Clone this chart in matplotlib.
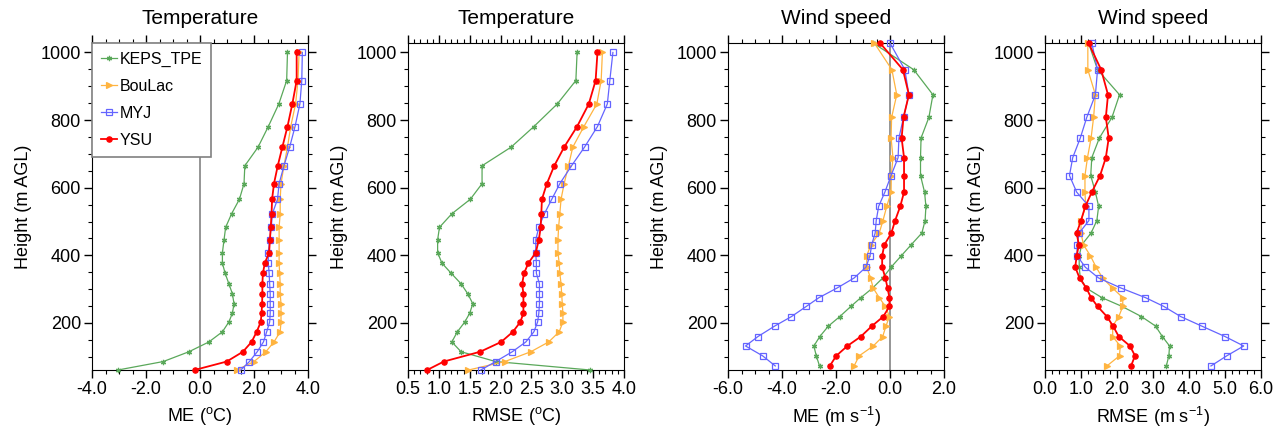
import matplotlib
matplotlib.use("Agg")
import matplotlib.pyplot as plt
from matplotlib.ticker import MultipleLocator, FormatStrFormatter

plt.rcParams['font.family'] = ['Liberation Sans', 'DejaVu Sans']
plt.rcParams['mathtext.fontset'] = 'custom'
plt.rcParams['mathtext.rm'] = 'Liberation Sans'
plt.rcParams['mathtext.it'] = 'Liberation Sans'
plt.rcParams['axes.unicode_minus'] = False

# model levels (m AGL), top to bottom
height_t = [1000, 917, 848, 781, 720, 665, 612, 566, 523, 483, 446, 408,
            377, 347, 316, 286, 257, 229, 203, 174, 144, 115, 86, 61]
height_w = [1028, 949, 875, 808, 747, 689, 636, 587, 545, 503, 466, 431,
            399, 365, 333, 303, 275, 249, 219, 191, 160, 132, 103, 73]

# temperature ME (degC)
keps_t_me = [3.24, 3.21, 2.92, 2.53, 2.15, 1.66, 1.63, 1.46, 1.17, 0.95, 0.89, 0.83,
             0.83, 0.93, 1.07, 1.20, 1.26, 1.20, 1.07, 0.83, 0.33, -0.41, -1.36, -3.04]
boulac_t_me = [3.67, 3.63, 3.54, 3.36, 3.24, 3.11, 3.00, 2.97, 2.97, 2.93, 2.93, 2.93,
               2.93, 2.95, 2.97, 2.97, 3.00, 3.00, 3.00, 2.97, 2.74, 2.44, 2.00, 1.36]
myj_t_me = [3.79, 3.77, 3.70, 3.52, 3.32, 3.11, 2.93, 2.87, 2.68, 2.64, 2.58, 2.53,
            2.53, 2.56, 2.58, 2.60, 2.60, 2.60, 2.58, 2.47, 2.35, 2.12, 1.83, 1.51]
ysu_t_me = [3.58, 3.58, 3.42, 3.24, 3.05, 2.88, 2.74, 2.67, 2.65, 2.62, 2.59, 2.56,
            2.40, 2.33, 2.31, 2.31, 2.30, 2.28, 2.25, 2.10, 1.91, 1.59, 0.99, -0.20]

# temperature RMSE (degC)
keps_t_rmse = [3.24, 3.22, 2.92, 2.54, 2.17, 1.70, 1.70, 1.51, 1.21, 1.01, 0.98, 0.98,
               1.05, 1.20, 1.36, 1.47, 1.55, 1.50, 1.42, 1.30, 1.21, 1.36, 1.92, 3.45]
boulac_t_rmse = [3.65, 3.63, 3.56, 3.35, 3.17, 3.10, 3.03, 2.98, 2.96, 2.94, 2.93, 2.93,
                 2.95, 2.96, 2.98, 2.99, 3.00, 3.01, 3.01, 2.95, 2.78, 2.49, 2.07, 1.48]
myj_t_rmse = [3.82, 3.77, 3.73, 3.57, 3.36, 3.15, 2.96, 2.83, 2.71, 2.62, 2.57, 2.57,
              2.58, 2.58, 2.63, 2.63, 2.63, 2.62, 2.60, 2.54, 2.41, 2.19, 1.92, 1.68]
ysu_t_rmse = [3.57, 3.54, 3.43, 3.24, 3.03, 2.87, 2.75, 2.67, 2.66, 2.65, 2.62, 2.57,
              2.45, 2.38, 2.35, 2.37, 2.37, 2.37, 2.32, 2.20, 2.01, 1.67, 1.08, 0.81]

# wind speed ME (m/s)
keps_w_me = [-0.62, 0.88, 1.59, 1.44, 1.15, 1.13, 1.13, 1.28, 1.33, 1.30, 1.18, 0.78,
             0.42, 0.04, -0.27, -0.65, -1.08, -1.45, -1.86, -2.28, -2.60, -2.82, -2.73, -2.61]
boulac_w_me = [-0.58, 0.07, 0.25, 0.06, 0.04, 0.11, 0.05, 0.04, -0.12, -0.26, -0.40, -0.71,
               -0.86, -0.86, -0.72, -0.62, -0.40, -0.17, -0.02, -0.15, -0.27, -0.62, -1.14, -1.33]
myj_w_me = [0.00, 0.55, 0.70, 0.50, 0.33, 0.30, 0.04, -0.19, -0.42, -0.51, -0.55, -0.68,
            -0.74, -0.89, -1.33, -1.97, -2.63, -3.10, -3.65, -4.27, -4.89, -5.35, -4.72, -4.25]
ysu_w_me = [-0.37, 0.48, 0.70, 0.50, 0.43, 0.52, 0.52, 0.52, 0.38, 0.19, 0.05, -0.21,
            -0.29, -0.29, -0.17, -0.09, -0.02, -0.02, -0.25, -0.67, -1.08, -1.58, -1.99, -2.23]

# wind speed RMSE (m/s)
keps_w_rmse = [1.21, 1.46, 2.07, 1.86, 1.51, 1.30, 1.27, 1.40, 1.49, 1.44, 1.28, 1.02,
               0.95, 0.95, 0.98, 1.15, 1.58, 2.14, 2.68, 3.07, 3.26, 3.46, 3.44, 3.37]
boulac_w_rmse = [1.19, 1.19, 1.40, 1.35, 1.28, 1.18, 1.11, 1.11, 1.13, 1.00, 1.00, 1.07,
                 1.26, 1.42, 1.60, 1.88, 2.16, 2.16, 2.05, 1.88, 1.88, 2.09, 2.07, 1.72]
myj_w_rmse = [1.30, 1.46, 1.40, 1.16, 0.98, 0.77, 0.68, 0.88, 1.22, 1.22, 0.95, 0.89,
              0.89, 1.12, 1.49, 2.12, 2.79, 3.30, 3.77, 4.35, 5.00, 5.52, 5.05, 4.61]
ysu_w_rmse = [1.21, 1.56, 1.75, 1.69, 1.77, 1.69, 1.53, 1.30, 1.12, 1.00, 0.88, 0.94,
              0.88, 0.84, 0.96, 1.15, 1.28, 1.46, 1.72, 1.89, 2.05, 2.36, 2.50, 2.39]

names = ["KEPS_TPE", "BouLac", "MYJ", "YSU"]
colors = ["#5aa85a", "#ffb440", "#6464ff", "#ff0000"]
markers = [(6, 2, 0), ">", "s", "o"]

panels = [
    ("Temperature", r"ME ($^{\mathrm{o}}$C)", height_t,
     [keps_t_me, boulac_t_me, myj_t_me, ysu_t_me], (-4, 4), 2.0, 0.5, True),
    ("Temperature", r"RMSE ($^{\mathrm{o}}$C)", height_t,
     [keps_t_rmse, boulac_t_rmse, myj_t_rmse, ysu_t_rmse], (0.5, 4), 0.5, 0.1, False),
    ("Wind speed", r"ME (m s$^{-1}$)", height_w,
     [keps_w_me, boulac_w_me, myj_w_me, ysu_w_me], (-6, 2), 2.0, 0.5, True),
    ("Wind speed", r"RMSE (m s$^{-1}$)", height_w,
     [keps_w_rmse, boulac_w_rmse, myj_w_rmse, ysu_w_rmse], (0, 6), 1.0, 0.2, False),
]

fig = plt.figure(figsize=(12.87, 4.38), dpi=100)
lefts = [92, 408, 728, 1045]
ylo = min(height_t + height_w)
yhi = max(height_t + height_w)

for i, (title, xlabel, hgt, series, xlim, major, minor, zero) in enumerate(panels):
    ax = fig.add_axes([lefts[i] / 1287, 68 / 438, 216 / 1287, 327 / 438])
    if zero:
        ax.axvline(0, color="#8c8c8c", lw=1.3, zorder=1)
    for j, vals in enumerate(series):
        hollow = markers[j] == "s"
        ax.plot(vals, hgt, color=colors[j], lw=1.3 if j == 3 else 0.9,
                marker=markers[j], ms=4.2 if hollow else 3.8,
                mfc="none" if hollow else colors[j], mec=colors[j], mew=0.9,
                label=names[j], zorder=3 + j, clip_on=False)
    ax.set_xlim(*xlim)
    ax.set_ylim(ylo, yhi)
    ax.xaxis.set_major_locator(MultipleLocator(major))
    ax.xaxis.set_minor_locator(MultipleLocator(minor))
    ax.xaxis.set_major_formatter(FormatStrFormatter("%.1f"))
    ax.yaxis.set_major_locator(MultipleLocator(200))
    ax.yaxis.set_minor_locator(MultipleLocator(50))
    ax.tick_params(which="both", direction="out", top=True, right=True,
                   labelsize=13, pad=2)
    ax.tick_params(which="major", length=6, width=1)
    ax.tick_params(which="minor", length=3, width=0.8)
    ax.set_title(title, fontsize=15, pad=14)
    ax.set_xlabel(xlabel, fontsize=13, labelpad=5)
    ax.set_ylabel("Height (m AGL)", fontsize=13, labelpad=6)
    if i == 0:
        leg = ax.legend(loc="upper left", borderaxespad=0, fancybox=False,
                        edgecolor="#808080", framealpha=1, fontsize=11.5,
                        handlelength=1.0, handletextpad=0.2, labelspacing=0.75,
                        borderpad=0.55)
        leg.get_frame().set_linewidth(1.2)

fig.savefig("out.png", dpi=100)
